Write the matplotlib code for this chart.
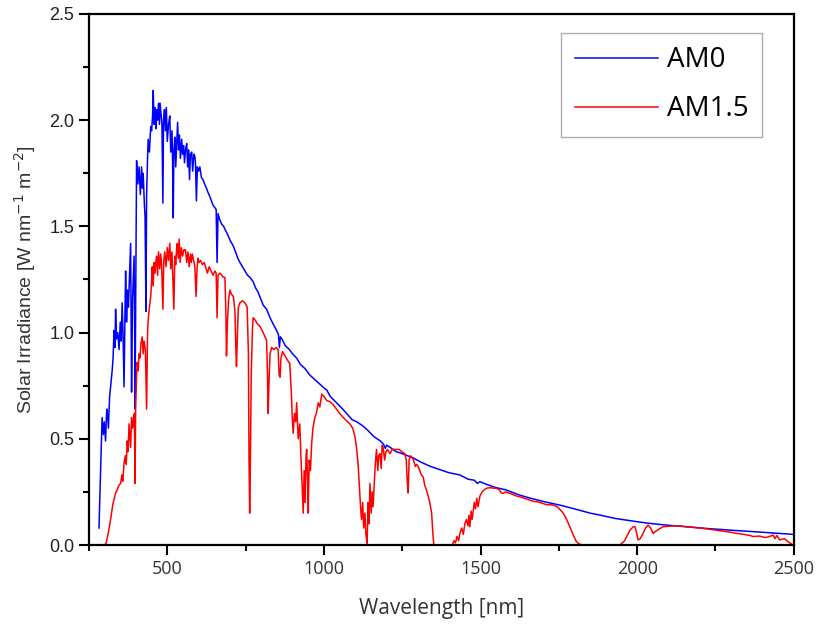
import numpy as np
import matplotlib
matplotlib.use('Agg')
import matplotlib.pyplot as plt
from matplotlib.ticker import MultipleLocator, FormatStrFormatter

# AM0 spectrum (nm, W nm-1 m-2)
am0_nm = [282, 286, 289, 292, 296, 299, 303, 306, 308, 312, 316, 320, 324, 327, 330, 333, 335, 338,
          342, 346, 350, 353, 356, 359, 362, 365, 367, 370, 373, 376, 380, 383, 386, 389, 392, 394,
          396, 397, 399, 402, 406, 410, 414, 418, 421, 423, 427, 429, 432, 434, 437, 439, 443, 447,
          450, 453, 455, 458, 461, 464, 466, 469, 472, 475, 477, 480, 483, 486, 488, 491, 494, 497,
          500, 504, 508, 511, 515, 517, 519, 521, 524, 527, 530, 533, 536, 539, 542, 546, 549, 552,
          555, 558, 562, 565, 568, 571, 574, 578, 581, 585, 588, 590, 593, 596, 600, 604, 609, 614,
          619, 625, 630, 636, 641, 646, 651, 656, 659, 662, 668, 674, 680, 686, 690, 696, 702, 710,
          718, 725, 732, 740, 748, 756, 764, 774, 782, 790, 798, 806, 817, 828, 838, 849, 855, 858,
          861, 866, 876, 890, 900, 913, 925, 940, 955, 970, 985, 1000, 1009, 1020, 1040, 1060, 1072,
          1090, 1105, 1125, 1140, 1160, 1180, 1190, 1196, 1200, 1211, 1230, 1250, 1268, 1285, 1310,
          1340, 1370, 1400, 1434, 1460, 1480, 1490, 1498, 1520, 1550, 1580, 1625, 1660, 1700, 1753,
          1800, 1850, 1881, 1930, 1998, 2050, 2100, 2158, 2220, 2317, 2400, 2498]
am0_val = [0.08, 0.30, 0.45, 0.60, 0.52, 0.58, 0.49, 0.62, 0.64, 0.55, 0.70, 0.76, 0.82, 0.88, 1.01, 0.93, 1.11, 0.97,
           1.00, 0.92, 1.05, 0.96, 1.14, 0.98, 0.745, 1.10, 1.29, 1.05, 1.20, 1.12, 1.30, 1.42, 0.72, 1.15, 1.28, 1.36,
           1.00, 0.64, 1.10, 1.81, 1.70, 1.78, 1.65, 1.78, 1.68, 1.75, 1.60, 1.55, 1.10, 1.65, 1.82, 1.91, 1.85, 1.97,
           1.95, 2.02, 2.14, 1.98, 2.06, 1.96, 2.05, 2.00, 2.08, 1.98, 2.08, 2.03, 1.98, 1.61, 2.00, 2.05, 1.95, 2.06,
           1.90, 1.98, 2.02, 1.85, 1.95, 1.80, 1.54, 1.85, 1.92, 1.78, 1.88, 1.99, 1.86, 1.93, 1.82, 1.91, 1.84, 1.88,
           1.80, 1.86, 1.89, 1.78, 1.86, 1.72, 1.84, 1.85, 1.76, 1.84, 1.83, 1.80, 1.62, 1.78, 1.76, 1.78, 1.73, 1.72,
           1.70, 1.68, 1.66, 1.64, 1.62, 1.60, 1.59, 1.58, 1.33, 1.56, 1.53, 1.51, 1.50, 1.48, 1.47, 1.45, 1.43, 1.41,
           1.38, 1.35, 1.33, 1.31, 1.29, 1.27, 1.26, 1.24, 1.21, 1.19, 1.16, 1.13, 1.11, 1.07, 1.04, 1.01, 0.99, 0.93,
           0.98, 0.97, 0.94, 0.92, 0.90, 0.88, 0.85, 0.83, 0.80, 0.78, 0.76, 0.74, 0.73, 0.70, 0.67, 0.64, 0.62,
           0.59, 0.58, 0.56, 0.54, 0.51, 0.49, 0.475, 0.455, 0.47, 0.46, 0.44, 0.43, 0.42, 0.41, 0.39,
           0.37, 0.355, 0.34, 0.33, 0.31, 0.305, 0.29, 0.298, 0.285, 0.27, 0.26, 0.235, 0.22, 0.205, 0.188,
           0.17, 0.15, 0.141, 0.125, 0.11, 0.10, 0.093, 0.086, 0.078, 0.068, 0.06, 0.05]

# AM1.5 spectrum
am15_nm = [282, 300, 305, 312, 319, 326, 331, 335, 340, 345, 351, 355, 358, 362, 366, 369, 372, 375,
           378, 381, 383, 386, 389, 392, 395, 397, 399, 402, 404, 407, 410, 413, 416, 420, 423, 426,
           430, 434, 437, 439, 443, 447, 450, 452, 455, 458, 461, 463, 466, 469, 472, 476, 479, 482,
           486, 489, 492, 496, 500, 504, 508, 511, 515, 518, 521, 524, 527, 530, 532, 535, 538, 541,
           545, 549, 553, 558, 562, 566, 570, 574, 577, 580, 584, 588, 592, 595, 598, 601, 606, 612,
           618, 624, 628, 634, 640, 646, 652, 656, 659, 662, 668, 674, 679, 684, 687, 689, 692, 696,
           700, 705, 711, 716, 719, 721, 724, 727, 732, 740, 748, 755, 759, 761, 763, 765, 768, 772,
           774, 780, 788, 796, 806, 812, 817, 820, 822, 825, 828, 833, 840, 848, 854, 857, 860, 863,
           868, 876, 884, 891, 896, 899, 902, 906, 910, 913, 918, 923, 927, 930, 934, 937, 940, 943,
           945, 948, 950, 953, 957, 961, 965, 971, 976, 982, 987, 993, 1000, 1009, 1019, 1030, 1040,
           1050, 1062, 1072, 1083, 1092, 1099, 1104, 1109, 1113, 1117, 1120, 1124, 1127, 1131, 1134,
           1138, 1141, 1144, 1147, 1151, 1154, 1157, 1161, 1164, 1168, 1172, 1175, 1179, 1183, 1186,
           1189, 1194, 1198, 1203, 1211, 1218, 1225, 1232, 1240, 1248, 1258, 1263, 1266, 1269, 1272,
           1276, 1280, 1286, 1292, 1296, 1301, 1306, 1311, 1317, 1322, 1327, 1333, 1338, 1344, 1348,
           1351, 1410, 1415, 1420, 1425, 1430, 1434, 1440, 1445, 1450, 1455, 1460, 1463, 1466, 1470,
           1473, 1476, 1480, 1484, 1488, 1492, 1498, 1505, 1512, 1519, 1530, 1540, 1551, 1560, 1566,
           1572, 1580, 1590, 1600, 1612, 1625, 1640, 1650, 1660, 1670, 1679, 1690, 1700, 1710, 1720,
           1732, 1745, 1755, 1764, 1775, 1785, 1795, 1806, 1816, 1828, 1945, 1960, 1970, 1977, 1987,
           1993, 1998, 2003, 2010, 2019, 2027, 2035, 2043, 2051, 2060, 2070, 2083, 2100, 2120, 2136,
           2160, 2180, 2200, 2211, 2240, 2270, 2300, 2317, 2340, 2360, 2370, 2390, 2410, 2423, 2434,
           2440, 2446, 2455, 2470, 2485, 2498]
am15_val = [0.0, 0.0, 0.01, 0.06, 0.12, 0.19, 0.22, 0.245, 0.26, 0.28, 0.29, 0.33, 0.30, 0.385, 0.42, 0.38, 0.49, 0.44,
            0.57, 0.50, 0.46, 0.60, 0.55, 0.58, 0.62, 0.29, 0.64, 0.80, 0.86, 0.82, 0.90, 0.88, 0.95, 0.98, 0.90, 0.96,
            0.92, 0.64, 1.00, 1.06, 1.12, 1.17, 1.24, 1.31, 1.22, 1.33, 1.28, 1.33, 1.36, 1.27, 1.38, 1.30, 1.37, 1.32,
            1.11, 1.34, 1.38, 1.31, 1.40, 1.34, 1.42, 1.30, 1.38, 1.25, 1.11, 1.36, 1.32, 1.40, 1.42, 1.35, 1.44, 1.33,
            1.40, 1.36, 1.39, 1.39, 1.33, 1.38, 1.31, 1.37, 1.33, 1.37, 1.34, 1.31, 1.17, 1.30, 1.35, 1.33, 1.34, 1.32,
            1.33, 1.30, 1.28, 1.31, 1.29, 1.27, 1.29, 1.28, 1.07, 1.27, 1.28, 1.27, 1.26, 1.26, 1.10, 0.89, 1.05, 1.16,
            1.20, 1.18, 1.17, 1.10, 0.92, 0.84, 1.00, 1.12, 1.14, 1.15, 1.14, 1.12, 0.90, 0.40, 0.15, 0.35, 0.80, 1.02,
            1.07, 1.06, 1.04, 1.03, 1.00, 0.98, 0.965, 0.80, 0.62, 0.78, 0.90, 0.93, 0.92, 0.93, 0.92, 0.80, 0.79, 0.88,
            0.91, 0.89, 0.87, 0.855, 0.72, 0.60, 0.526, 0.62, 0.58, 0.67, 0.50, 0.57, 0.40, 0.30, 0.15, 0.35, 0.20, 0.42,
            0.45, 0.30, 0.15, 0.40, 0.35, 0.48, 0.55, 0.60, 0.62, 0.67, 0.65, 0.71, 0.70, 0.68, 0.675, 0.66, 0.64,
            0.62, 0.60, 0.585, 0.57, 0.55, 0.51, 0.46, 0.385, 0.28, 0.18, 0.12, 0.20, 0.08, 0.15, 0.05,
            0.008, 0.20, 0.10, 0.29, 0.15, 0.25, 0.18, 0.30, 0.38, 0.45, 0.35, 0.42, 0.43, 0.36, 0.47,
            0.46, 0.40, 0.44, 0.45, 0.43, 0.45, 0.45, 0.45, 0.45, 0.44, 0.43, 0.40, 0.30, 0.245, 0.40,
            0.42, 0.415, 0.40, 0.37, 0.38, 0.37, 0.35, 0.33, 0.32, 0.28, 0.26, 0.23, 0.20, 0.15, 0.05,
            0.0, 0.0, 0.02, 0.01, 0.04, 0.02, 0.055, 0.08, 0.05, 0.10, 0.12, 0.09, 0.14, 0.086, 0.16,
            0.12, 0.15, 0.20, 0.17, 0.22, 0.18, 0.23, 0.25, 0.26, 0.267, 0.27, 0.268, 0.267, 0.26, 0.245,
            0.243, 0.25, 0.245, 0.24, 0.232, 0.227, 0.22, 0.215, 0.21, 0.205, 0.204, 0.20, 0.195, 0.19, 0.19,
            0.188, 0.18, 0.165, 0.15, 0.12, 0.086, 0.05, 0.016, 0.004, 0.0, 0.0, 0.02, 0.05, 0.07, 0.085,
            0.086, 0.06, 0.024, 0.03, 0.055, 0.08, 0.094, 0.08, 0.055, 0.065, 0.075, 0.086, 0.088, 0.09, 0.09,
            0.085, 0.083, 0.08, 0.078, 0.072, 0.066, 0.06, 0.055, 0.05, 0.045, 0.04, 0.042, 0.035, 0.04, 0.047,
            0.03, 0.045, 0.024, 0.03, 0.012, 0.0]

fig = plt.figure(figsize=(8.2, 6.24), dpi=100)
ax = fig.add_axes([0.1085, 0.1266, 0.8595, 0.851])

ax.plot(am0_nm, am0_val, color='#0000ff', lw=1.1, label='AM0')
ax.plot(am15_nm, am15_val, color='#ff0000', lw=1.1, label='AM1.5')

ax.set_xlim(250, 2500)
ax.set_ylim(0, 2.5)
ax.xaxis.set_major_locator(MultipleLocator(500))
ax.xaxis.set_minor_locator(MultipleLocator(250))
ax.yaxis.set_major_locator(MultipleLocator(0.5))
ax.yaxis.set_minor_locator(MultipleLocator(0.25))
ax.yaxis.set_major_formatter(FormatStrFormatter('%.1f'))

for s in ax.spines.values():
    s.set_linewidth(1.6)
ax.tick_params(which='major', direction='out', length=7, width=1.5, top=False, right=False)
ax.tick_params(which='minor', direction='out', length=4, width=1.5, top=False, right=False)

for lab in ax.get_xticklabels():
    lab.set_fontfamily('Open Sans')
    lab.set_fontsize(13)
    lab.set_color('#333333')
for lab in ax.get_yticklabels():
    lab.set_fontfamily('Liberation Sans')
    lab.set_fontsize(13)
    lab.set_color('#222222')

ax.set_xlabel('Wavelength [nm]', fontfamily='Open Sans', fontsize=15, color='#333333', labelpad=15)
ax.set_ylabel('Solar Irradiance [W nm$^{-1}$ m$^{-2}$]', fontfamily='Liberation Sans', fontsize=14,
              color='#333333', labelpad=8)

leg = ax.legend(loc='upper right', bbox_to_anchor=(0.955, 0.965), prop={'family': 'Open Sans', 'size': 20},
                frameon=True, fancybox=False, handlelength=3.0, handletextpad=0.3,
                borderpad=0.5, labelspacing=0.75, borderaxespad=0)
leg.get_frame().set_edgecolor('#999999')
leg.get_frame().set_linewidth(1.0)

fig.savefig('out.png', dpi=100)
